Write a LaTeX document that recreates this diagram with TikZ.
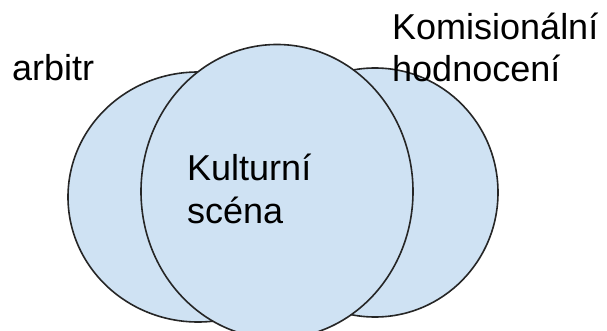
\documentclass[tikz,border=0pt]{standalone}
\usepackage{fontspec}
\setmainfont{Liberation Sans}
\usetikzlibrary{shapes.geometric}
\definecolor{setfill}{HTML}{CFE2F3}
\definecolor{setline}{HTML}{262626}
\tikzset{
  setshape/.style={ellipse, draw=setline, fill=setfill, line width=1.6pt, inner sep=0pt},
  lbl/.style={anchor=base west, inner sep=0pt, font=\fontsize{36}{43}\selectfont, text=black}
}
\begin{document}
\begin{tikzpicture}[x=1pt,y=-1pt]
\useasboundingbox (0,0) rectangle (607,331);
\clip (0,0) rectangle (607,331);
\fill[white] (0,0) rectangle (607,331);
\node[setshape, minimum width=260pt, minimum height=250pt] (arb) at (198,197) {};
\node[setshape, minimum width=246pt, minimum height=249pt] (kom) at (375,192.5) {};
\node[setshape, minimum width=272pt, minimum height=294pt] (kul) at (277,191.5) {};
\node[lbl] (arbt) at (12,80.5) {arbitr};
\node[lbl] (kom1) at (392,40) {Komisionální};
\node[lbl] (kom2) at (392,82) {hodnocení};
\node[lbl] (kul1) at (187,180) {Kulturní};
\node[lbl] (kul2) at (187,223) {scéna};
\end{tikzpicture}
\end{document}
